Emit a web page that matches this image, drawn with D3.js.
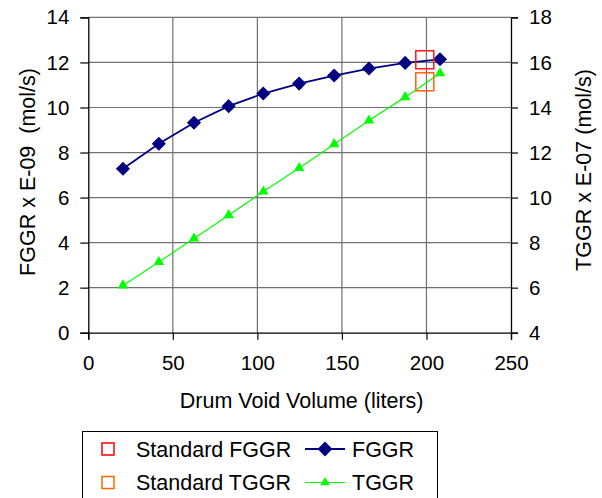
<!DOCTYPE html>
<html><head><meta charset="utf-8">
<script src="https://cdn.jsdelivr.net/npm/d3@7"></script>
<style>
html,body{margin:0;padding:0;background:#fff;}
text{font-family:"Liberation Sans",Arial,sans-serif;fill:#000;}
</style></head>
<body>
<svg id="chart" width="602" height="498"></svg>
<script>
// ---- data ----
const volume = [20.5, 41.7, 62.5, 83, 103.5, 124.7, 145.4, 166, 187.4, 208];
const fggr = [7.28, 8.39, 9.32, 10.06, 10.62, 11.06, 11.42, 11.73, 11.98, 12.14];
const tggr = [6.10, 7.14, 8.18, 9.22, 10.27, 11.31, 12.37, 13.42, 14.46, 15.52];
const standardFggr = [{x: 199, y: 12.12}];
const standardTggr = [{x: 199, y: 15.14}];
const xTicks = [0, 50, 100, 150, 200, 250];
const yLeftTicks = [0, 2, 4, 6, 8, 10, 12, 14];
const yRightTicks = [4, 6, 8, 10, 12, 14, 16, 18];
const xTitle = "Drum Void Volume (liters)";
const yLeftTitle = "FGGR x E-09  (mol/s)";
const yRightTitle = "TGGR x E-07 (mol/s)";
const legendItems = [
  {label: "Standard FGGR", kind: "square", color: "#ff0000"},
  {label: "FGGR", kind: "diamond", color: "#000080"},
  {label: "Standard TGGR", kind: "square", color: "#ff6600"},
  {label: "TGGR", kind: "triangle", color: "#00ff00"}
];

const svg = d3.select("#chart");
const L = 88.3, R = 511, T = 17.4, B = 332.7;
const x = d3.scaleLinear().domain([0, 250]).range([L, R]);
const yL = d3.scaleLinear().domain([0, 14]).range([B, T]);
const yR = d3.scaleLinear().domain([4, 18]).range([B, T]);

// gridlines
const grid = svg.append("g");
grid.selectAll("line.h").data(yLeftTicks.filter(d => d > 0)).join("line")
  .attr("x1", L).attr("x2", R).attr("y1", d => yL(d)).attr("y2", d => yL(d))
  .attr("stroke", "#707070").attr("stroke-width", 1.2);
grid.selectAll("line.v").data(xTicks.filter(d => d > 0 && d < 250)).join("line")
  .attr("y1", T).attr("y2", B).attr("x1", d => x(d)).attr("x2", d => x(d))
  .attr("stroke", "#707070").attr("stroke-width", 1.2);

// axes
const fs = "20.5px";
const gx = svg.append("g").attr("transform", `translate(0,${B})`)
  .call(d3.axisBottom(x).tickValues(xTicks).tickSize(7).tickPadding(16));
const gl = svg.append("g").attr("transform", `translate(${L},0)`)
  .call(d3.axisLeft(yL).tickValues(yLeftTicks).tickSize(8).tickPadding(11));
const gr = svg.append("g").attr("transform", `translate(${R},0)`)
  .call(d3.axisRight(yR).tickValues(yRightTicks).tickSize(7).tickPadding(11));
[gx, gl, gr].forEach(g => {
  g.select(".domain").attr("stroke", "#000").attr("stroke-width", 1.3);
  g.selectAll(".tick line").attr("stroke", "#000").attr("stroke-width", 1.2);
  g.selectAll(".tick text").attr("font-size", fs)
    .attr("font-family", '"Liberation Sans",Arial,sans-serif').attr("fill", "#000");
});

// titles
svg.append("text").attr("x", (L + R) / 2 + 2).attr("y", 408)
  .attr("text-anchor", "middle").attr("font-size", "21.5px").text(xTitle);
svg.append("text").attr("transform", "translate(35,172) rotate(-90)")
  .attr("text-anchor", "middle").attr("font-size", "21.5px")
  .style("white-space", "pre").text(yLeftTitle);
svg.append("text").attr("transform", "translate(591,170) rotate(-90)")
  .attr("text-anchor", "middle").attr("font-size", "21.5px").text(yRightTitle);

// series lines
const lineF = d3.line().x((d, i) => x(volume[i])).y(d => yL(d));
const lineT = d3.line().x((d, i) => x(volume[i])).y(d => yR(d));
svg.append("path").datum(tggr).attr("d", lineT).attr("fill", "none")
  .attr("stroke", "#00ff00").attr("stroke-width", 1.2);
svg.append("path").datum(fggr).attr("d", lineF).attr("fill", "none")
  .attr("stroke", "#000080").attr("stroke-width", 1.8);

const diamond = d3.symbol().type(d3.symbolSquare).size(100);
svg.selectAll("path.fm").data(fggr).join("path").attr("class", "fm")
  .attr("d", diamond())
  .attr("transform", (d, i) => `translate(${x(volume[i])},${yL(d)}) rotate(45)`)
  .attr("fill", "#000080");
const tri = d3.symbol().type(d3.symbolTriangle).size(48);
svg.selectAll("path.tm").data(tggr).join("path").attr("class", "tm")
  .attr("d", tri())
  .attr("transform", (d, i) => `translate(${x(volume[i])},${yR(d)})`)
  .attr("fill", "#00ff00");

// standards
svg.selectAll("rect.sf").data(standardFggr).join("rect")
  .attr("x", d => x(d.x) - 9).attr("y", d => yL(d.y) - 9)
  .attr("width", 18).attr("height", 18)
  .attr("fill", "none").attr("stroke", "#ff2020").attr("stroke-width", 1.6);
svg.selectAll("rect.st").data(standardTggr).join("rect")
  .attr("x", d => x(d.x) - 9).attr("y", d => yR(d.y) - 9)
  .attr("width", 18).attr("height", 18)
  .attr("fill", "none").attr("stroke", "#ff6a1a").attr("stroke-width", 1.6);

// legend
const lg = svg.append("g");
lg.append("rect").attr("x", 82.5).attr("y", 431.5).attr("width", 355).attr("height", 80)
  .attr("fill", "#fff").attr("stroke", "#000").attr("stroke-width", 1);
const cols = [{sym: 108, txt: 136}, {sym: 325, txt: 352}];
const rows = [449, 482.5];
legendItems.forEach((it, k) => {
  const c = cols[k % 2], ry = rows[Math.floor(k / 2)];
  if (it.kind === "square") {
    lg.append("rect").attr("x", c.sym - 6).attr("y", ry - 6).attr("width", 12).attr("height", 12)
      .attr("fill", "none").attr("stroke", it.color).attr("stroke-width", 1.5);
  } else {
    lg.append("line").attr("x1", c.sym - 20).attr("x2", c.sym + 20).attr("y1", ry).attr("y2", ry)
      .attr("stroke", it.color).attr("stroke-width", it.kind === "diamond" ? 1.8 : 1.2);
    if (it.kind === "diamond") {
      lg.append("path").attr("d", d3.symbol().type(d3.symbolSquare).size(110)())
        .attr("transform", `translate(${c.sym},${ry}) rotate(45)`).attr("fill", it.color);
    } else {
      lg.append("path").attr("d", d3.symbol().type(d3.symbolTriangle).size(40)())
        .attr("transform", `translate(${c.sym},${ry})`).attr("fill", it.color);
    }
  }
  lg.append("text").attr("x", c.txt).attr("y", ry + 7.5).attr("font-size", "21.5px").text(it.label);
});
</script>
</body></html>
